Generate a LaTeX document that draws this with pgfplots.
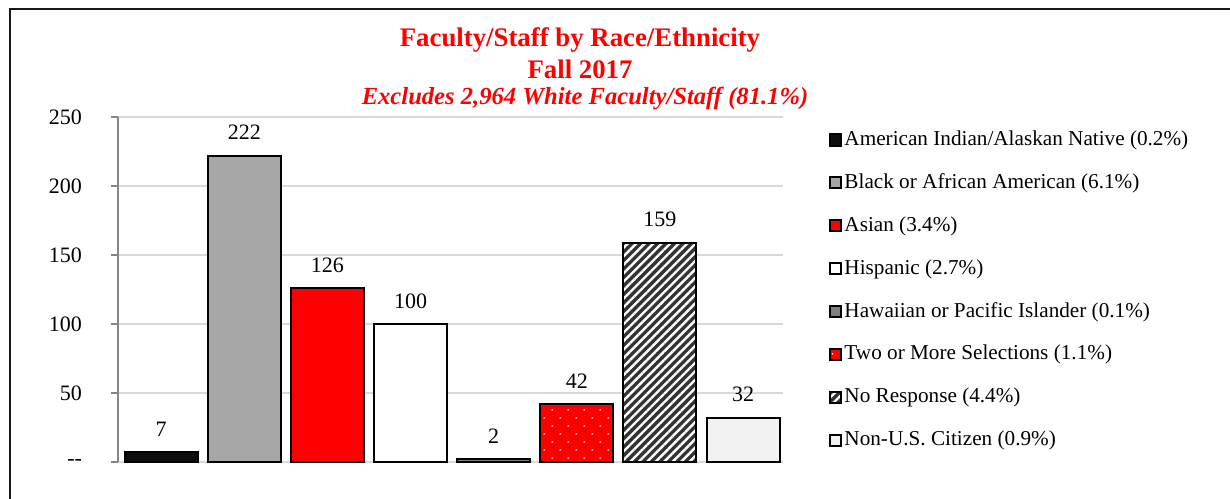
\documentclass[border=0pt]{standalone}
\usepackage{fontspec}
\setmainfont{Liberation Serif}
\usepackage{pgfplots}
\pgfplotsset{compat=1.18}
\usetikzlibrary{patterns.meta}
\definecolor{gridgray}{HTML}{D9D9D9}
\definecolor{axisgray}{HTML}{868686}
\definecolor{bargray}{HTML}{A6A6A6}
\definecolor{darkgray2}{HTML}{7F7F7F}
\definecolor{stripegray}{HTML}{333333}
\definecolor{lightfill}{HTML}{F2F2F2}
\definecolor{nearblack}{HTML}{0D0D0D}

\pgfplotsset{
  onebar/.style={ybar, bar shift=0pt, /pgf/bar width=36.5pt, draw=black, line width=1pt,
    legend image code/.code={\draw[##1, line width=1pt] (0.2pt,-2.8pt) rectangle (5.8pt,2.8pt);}},
}

\begin{document}
\begin{tikzpicture}
\path[use as bounding box] (-59pt,-18pt) rectangle (556pt,231pt);
\draw[line width=0.9pt, black!90] (-54pt,-25pt) -- (-54pt,226.5pt) -- (560pt,226.5pt);

\begin{axis}[
    scale only axis,
    width=332.5pt, height=172.5pt,
    xmin=-0.52, xmax=7.48, ymin=0, ymax=250,
    xtick=\empty,
    ytick={0,50,100,150,200,250},
    yticklabels={-{}-,50,100,150,200,250},
    axis lines=left,
    x axis line style={draw=gridgray, line width=0.6pt, -},
    y axis line style={draw=axisgray, line width=0.8pt, -},
    tick align=outside,
    major tick length=3.5pt,
    tick style={axisgray, line width=0.8pt},
    ymajorgrids=true,
    grid style={gridgray, line width=0.6pt},
    tick label style={font=\fontsize{11}{13}\selectfont},
    yticklabel style={xshift=-11pt},
    /pgf/number format/assume math mode=true,
    nodes near coords,
    nodes near coords style={font=\fontsize{11}{13}\selectfont, black, yshift=4pt},
    legend style={draw=none, fill=none, inner sep=0pt,
      at={(1.069,0.971)}, anchor=north west,
      font=\fontsize{10.6}{12.5}\selectfont,
      nodes={inner sep=1pt, text height=8pt, text depth=2.5pt},
      row sep=8.95pt},
    legend cell align=left,
]
\addplot[onebar, fill=nearblack] coordinates {(0,7)};
\addplot[onebar, fill=bargray] coordinates {(1,222)};
\addplot[onebar, fill=red] coordinates {(2,126)};
\addplot[onebar, fill=white] coordinates {(3,100)};
\addplot[onebar, fill=darkgray2] coordinates {(4,2)};
\addplot[onebar, fill=red, postaction={pattern={Dots[angle=45, distance=5.66pt, radius=0.5pt]}, pattern color=white}] coordinates {(5,42)};
\addplot[onebar, fill=stripegray, postaction={pattern={Lines[angle=45, distance=3pt, line width=1.2pt]}, pattern color=white}] coordinates {(6,159)};
\addplot[onebar, fill=lightfill] coordinates {(7,32)};
\legend{American Indian/Alaskan Native (0.2\%),
  Black or African American (6.1\%),
  Asian (3.4\%),
  Hispanic (2.7\%),
  Hawaiian or Pacific Islander (0.1\%),
  Two or More Selections (1.1\%),
  No Response (4.4\%),
  Non-U.S. Citizen (0.9\%)}
\end{axis}

\node[red, font=\bfseries\fontsize{13.4}{15}\selectfont] at (231pt,211pt) {Faculty/Staff by Race/Ethnicity};
\node[red, font=\bfseries\fontsize{13.4}{15}\selectfont] at (231pt,196.5pt) {Fall 2017};
\node[red, font=\bfseries\itshape\fontsize{12.3}{14}\selectfont] at (233.5pt,182pt) {Excludes 2,964 White Faculty/Staff (81.1\%)};
\end{tikzpicture}
\end{document}
